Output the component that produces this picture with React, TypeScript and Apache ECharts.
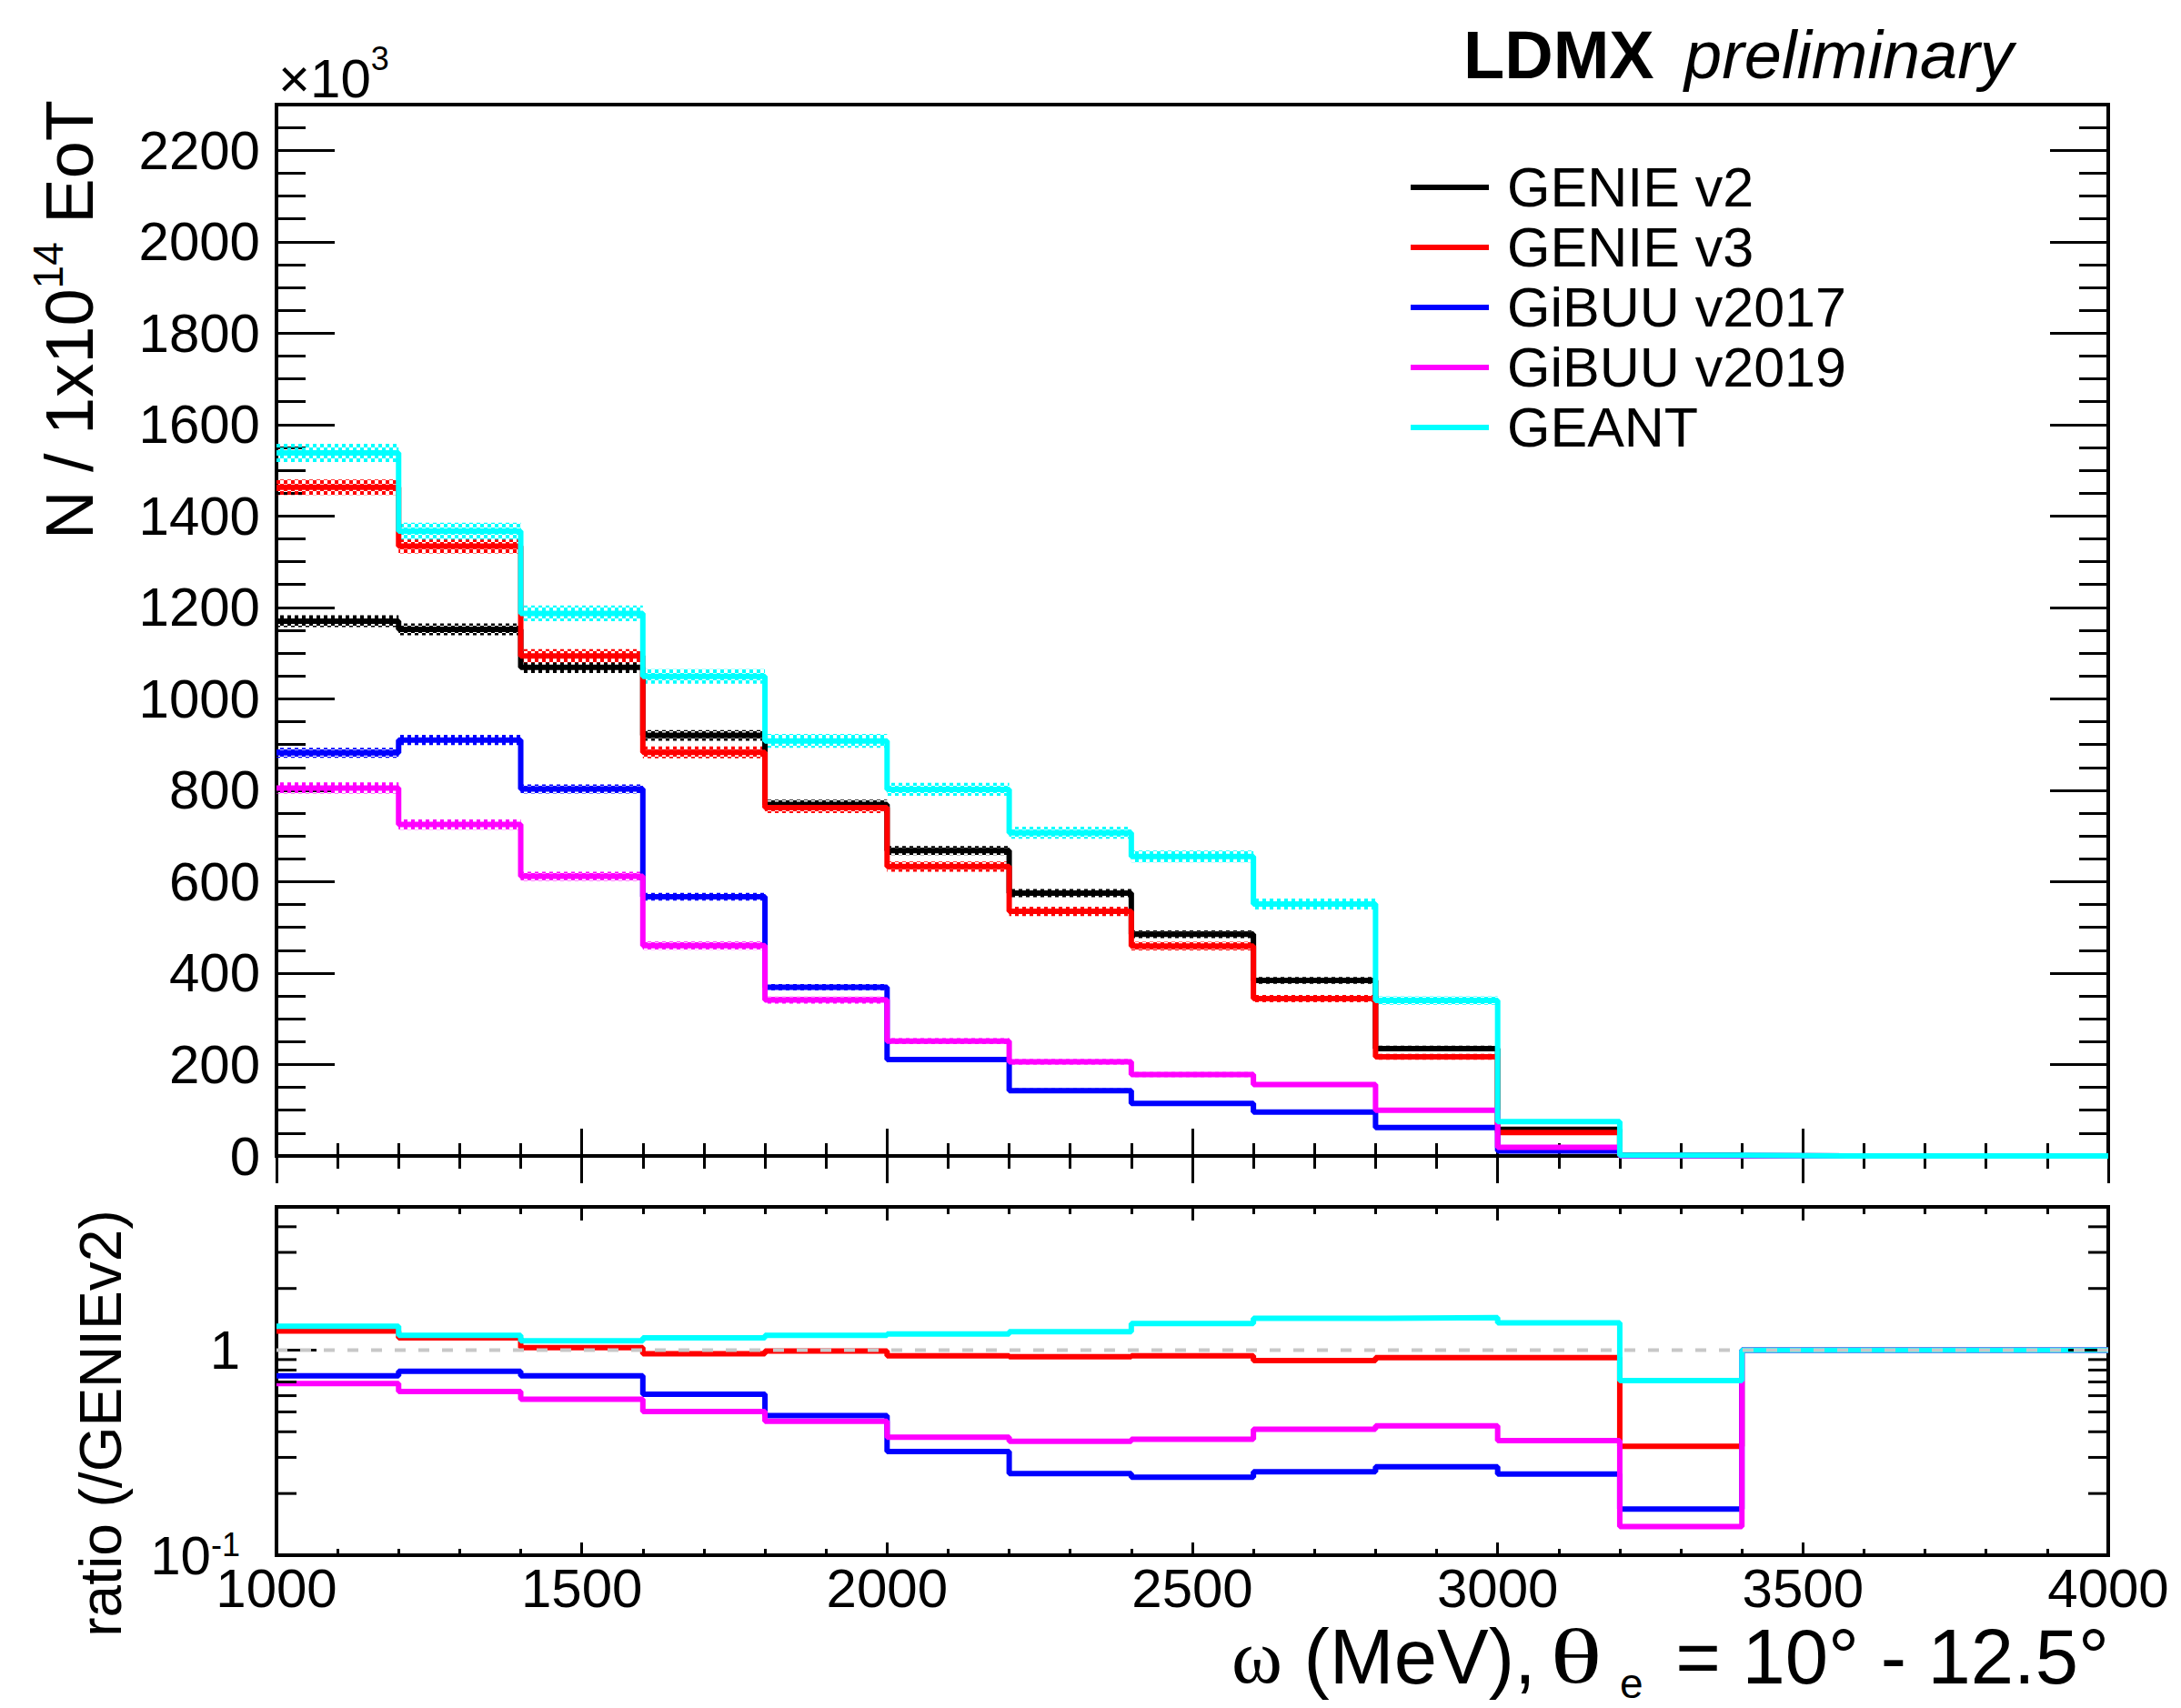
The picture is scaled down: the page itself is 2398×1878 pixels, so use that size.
import React, { useEffect, useRef } from "react";
import * as echarts from "echarts";

// ---------------- data ----------------
const binEdges = [1000, 1200, 1400, 1600, 1800, 2000, 2200, 2400, 2600, 2800, 3000, 3200, 3400, 3600, 3800, 4000];
const seriesNames = ["GENIE v2", "GENIE v3", "GiBUU v2017", "GiBUU v2019", "GEANT"];
const seriesColors = ["#000000", "#ff0000", "#0000ff", "#ff00ff", "#00ffff"];

// N / 1e14 EoT (x10^3)
const genieV2 = [1170, 1152, 1069, 920, 769, 668, 575, 485, 384, 235, 58, 2, 0, 0, 0];
const genieV3 = [1463, 1334, 1094, 883, 762, 633, 535, 459, 344, 217, 51, 0.7, 0, 0, 0];
const gibuu2017 = [882, 910, 803, 567, 369, 211, 143, 115, 96, 62, 11, 0.34, 0, 0, 0];
const gibuu2019 = [805, 725, 612, 460, 341, 251, 206, 178, 156, 100, 19, 0.28, 0, 0, 0];
const geant = [1538, 1367, 1187, 1049, 908, 802, 707, 655, 551, 340, 75, 1.4, 0, 0, 0];

// statistical uncertainty bands
const genieV2Err = [13, 13, 12.5, 11.5, 10.5, 10, 9, 8.5, 7.5, 6, 3, 0, 0, 0, 0];
const genieV3Err = [17, 16, 14.5, 13, 12, 11, 10, 9.5, 8, 6.5, 3, 0, 0, 0, 0];
const gibuu2017Err = [11, 11, 10, 8.5, 7, 5, 4.5, 4, 3.5, 3, 1, 0, 0, 0, 0];
const gibuu2019Err = [12, 11, 10, 9, 7.5, 6.5, 6, 5.5, 5, 4, 2, 0, 0, 0, 0];
const geantErr = [20, 18.5, 17, 16, 15, 14, 13, 13, 12, 9, 4, 0, 0, 0, 0];

// ratio to GENIE v2
const ratioGenieV3 = [1.24, 1.15, 1.03, 0.96, 0.99, 0.94, 0.93, 0.94, 0.89, 0.92, 0.92, 0.34, 1, 1, 1];
const ratioGibuu2017 = [0.75, 0.79, 0.75, 0.61, 0.48, 0.32, 0.25, 0.24, 0.255, 0.27, 0.249, 0.168, 1, 1, 1];
const ratioGibuu2019 = [0.687, 0.628, 0.577, 0.502, 0.45, 0.376, 0.359, 0.368, 0.411, 0.428, 0.362, 0.138, 1, 1, 1];
const ratioGeant = [1.31, 1.18, 1.11, 1.15, 1.18, 1.2, 1.23, 1.35, 1.43, 1.44, 1.36, 0.71, 1, 1, 1];
const ratioReference = [1, 1];

const logTickValues = [0.1, 0.2, 0.3, 0.4, 0.5, 0.6, 0.7, 0.8, 0.9, 1, 2, 3, 4];
const logMajorTicks = [0.1, 1];

const SANS = '"Liberation Sans", Arial, Helvetica, sans-serif';
const SERIF = '"Liberation Serif", "Times New Roman", serif';

let measureCtx: CanvasRenderingContext2D | null = null;
function measure(text: string, size: number, family: string, weight = "normal", style = "normal") {
  if (!measureCtx) measureCtx = document.createElement("canvas").getContext("2d");
  measureCtx!.font = `${style} ${weight} ${size}px ${family}`;
  return measureCtx!.measureText(text).width;
}

function makePattern(color: string) {
  const c = document.createElement("canvas");
  c.width = 8;
  c.height = 8;
  const g = c.getContext("2d")!;
  g.fillStyle = color;
  g.fillRect(0, 0, 4, 4);
  g.fillRect(4, 4, 4, 4);
  return { image: c.toDataURL(), repeat: "repeat", imageWidth: 8, imageHeight: 8 } as any;
}

function stepData(vals: number[]) {
  const d = vals.map((v, i) => [binEdges[i], v]);
  d.push([binEdges[binEdges.length - 1], vals[vals.length - 1]]);
  return d;
}

function txt(x: number, y: number, text: string, size: number, family: string, extra: any = {}, el: any = {}) {
  return {
    type: "text",
    x,
    y,
    silent: true,
    ...el,
    style: {
      text,
      fontSize: size,
      fontFamily: family,
      fill: "#000",
      align: "left",
      verticalAlign: "middle",
      ...extra,
    },
  };
}

export default function App() {
  const ref = useRef<HTMLDivElement>(null);
  useEffect(() => {
    if (!ref.current) return;
    const chart = echarts.init(ref.current, undefined, { renderer: "svg" });

    const topVals = [genieV2, genieV3, gibuu2017, gibuu2019, geant];
    const topErrs = [genieV2Err, genieV3Err, gibuu2017Err, gibuu2019Err, geantErr];
    const ratioVals = [null, ratioGenieV3, ratioGibuu2017, ratioGibuu2019, ratioGeant];

    const series: any[] = [];
    // bands
    topVals.forEach((vals, k) => {
      const pat = makePattern(seriesColors[k]);
      series.push({
        type: "custom",
        name: "band" + k,
        xAxisIndex: 0,
        yAxisIndex: 0,
        z: 1,
        silent: true,
        encode: { x: [0, 1], y: [2, 3] },
        data: vals
          .map((v, i) => [binEdges[i], binEdges[i + 1], v - topErrs[k][i], v + topErrs[k][i]])
          .filter((d) => d[3] - d[2] > 0),
        renderItem: (params: any, api: any) => {
          const p0 = api.coord([api.value(0), api.value(3)]);
          const p1 = api.coord([api.value(1), api.value(2)]);
          return {
            type: "rect",
            shape: { x: p0[0], y: p0[1], width: p1[0] - p0[0], height: p1[1] - p0[1] },
            style: { fill: pat },
          };
        },
      });
    });
    // histograms
    topVals.forEach((vals, k) => {
      series.push({
        type: "line",
        name: seriesNames[k],
        xAxisIndex: 0,
        yAxisIndex: 0,
        step: "end",
        symbol: "none",
        z: 3,
        color: seriesColors[k],
        itemStyle: { color: seriesColors[k] },
        lineStyle: { color: seriesColors[k], width: 6 },
        data: stepData(vals),
      });
    });
    // ratio histograms
    ratioVals.forEach((vals, k) => {
      if (!vals) return;
      series.push({
        type: "line",
        name: "ratio" + k,
        xAxisIndex: 2,
        yAxisIndex: 2,
        step: "end",
        symbol: "none",
        z: 3,
        color: seriesColors[k],
        lineStyle: { color: seriesColors[k], width: 6 },
        data: stepData(vals),
      });
    });
    // reference line at 1
    series.push({
      type: "line",
      name: "unity",
      xAxisIndex: 2,
      yAxisIndex: 2,
      symbol: "none",
      z: 6,
      silent: true,
      lineStyle: { color: "#c8c8c8", width: 4, type: [12, 14] },
      data: [
        [binEdges[0], ratioReference[0]],
        [binEdges[binEdges.length - 1], ratioReference[1]],
      ],
    });
    // log ticks (left + right)
    series.push({
      type: "custom",
      name: "logticks",
      xAxisIndex: 2,
      yAxisIndex: 2,
      z: 4,
      silent: true,
      encode: { x: 0, y: 1 },
      data: logTickValues.map((v) => [binEdges[0], v, logMajorTicks.includes(v) ? 1 : 0]),
      renderItem: (params: any, api: any) => {
        const pl = api.coord([api.value(0), api.value(1)]);
        const pr = api.coord([binEdges[binEdges.length - 1], api.value(1)]);
        const len = api.value(2) ? 44 : 22;
        return {
          type: "group",
          children: [
            { type: "line", shape: { x1: pl[0], y1: pl[1], x2: pl[0] + len, y2: pl[1] }, style: { stroke: "#000", lineWidth: 3 } },
            { type: "line", shape: { x1: pr[0], y1: pr[1], x2: pr[0] - len, y2: pr[1] }, style: { stroke: "#000", lineWidth: 3 } },
          ],
        };
      },
    });

    const tickStyle = { color: "#000", width: 3 };
    const xAxisBase = (grid: number, pos: string, major: number, minor: number, labels: boolean) => ({
      type: "value",
      gridIndex: grid,
      position: pos,
      min: 1000,
      max: 4000,
      interval: 500,
      axisLine: { show: false },
      axisTick: { show: true, inside: true, length: major, lineStyle: tickStyle },
      minorTick: { show: true, inside: true, splitNumber: 5, length: minor, lineStyle: tickStyle },
      splitLine: { show: false },
      minorSplitLine: { show: false },
      axisLabel: labels
        ? {
            show: true,
            fontSize: 60,
            lineHeight: 56,
            fontFamily: SANS,
            color: "#000",
            margin: 8,
            formatter: (v: number) => String(Math.round(v)),
          }
        : { show: false },
    });
    const yTopBase = (pos: string, labels: boolean) => ({
      type: "value",
      gridIndex: 0,
      position: pos,
      min: 0,
      max: 2300,
      interval: 200,
      axisLine: { show: false },
      axisTick: { show: true, inside: true, length: 64, lineStyle: tickStyle },
      minorTick: { show: true, inside: true, splitNumber: 4, length: 32, lineStyle: tickStyle },
      splitLine: { show: false },
      minorSplitLine: { show: false },
      axisLabel: labels
        ? {
            show: true,
            fontSize: 60,
            fontFamily: SANS,
            color: "#000",
            margin: 18,
            formatter: (v: number) => (Math.round(v) % 200 === 0 ? String(Math.round(v)) : ""),
          }
        : { show: false },
    });
    const yRatioBase = (pos: string, labels: boolean) => ({
      type: "log",
      logBase: 10,
      gridIndex: 1,
      position: pos,
      min: 0.1,
      max: 5,
      axisLine: { show: false },
      axisTick: { show: false },
      minorTick: { show: false },
      splitLine: { show: false },
      minorSplitLine: { show: false },
      axisLabel: labels
        ? {
            show: true,
            fontSize: 60,
            fontFamily: SANS,
            color: "#000",
            margin: 40,
            formatter: (v: number) =>
              Math.abs(v - 1) < 1e-6 ? "1" : Math.abs(v - 0.1) < 1e-6 ? "{b|10}{s|-1}" : "",
            rich: {
              b: { fontSize: 60, lineHeight: 60, fontFamily: SANS, color: "#000", verticalAlign: "bottom" },
              s: { fontSize: 36, lineHeight: 28, fontFamily: SANS, color: "#000", verticalAlign: "top" },
            },
          }
        : { show: false },
    });

    // ---------- free texts ----------
    const graphics: any[] = [];
    graphics.push(txt(1609, 60.5, "LDMX", 74, SANS, { fontWeight: "bold" }));
    graphics.push(txt(1852, 60.5, "preliminary", 74, SANS, { fontStyle: "italic" }));
    // x10^3
    const wX10 = measure("×10", 60, SANS);
    graphics.push(txt(306, 86, "×10", 60, SANS));
    graphics.push(txt(306 + wX10, 64.5, "3", 36, SANS));
    // y title (rotated)
    const yT1 = "N / 1x10";
    const yT2 = "14";
    const yT3 = " EoT";
    const w1 = measure(yT1, 74, SANS);
    const w2 = measure(yT2, 46, SANS);
    graphics.push({
      type: "group",
      x: 76.5,
      y: 593,
      rotation: Math.PI / 2,
      silent: true,
      children: [txt(0, 0, yT1, 74, SANS), txt(w1, -24, yT2, 46, SANS), txt(w1 + w2, 0, yT3, 74, SANS)],
    });
    // ratio title
    graphics.push({
      type: "text",
      x: 111,
      y: 1565,
      rotation: Math.PI / 2,
      silent: true,
      style: { text: "ratio (/GENIEv2)", fontSize: 64, fontFamily: SANS, fill: "#000", align: "center", verticalAlign: "middle" },
    });
    // x title: "ω (MeV), θ_e = 10° - 12.5°"
    const XF = 85;
    const XY = 1821;
    const TH_SCALE = 1.4;
    const xp1 = "ω";
    const xp2 = " (MeV),";
    const xp3 = "θ";
    const xp4 = "e";
    const xp5 = " = 10° - 12.5°";
    const lh = { lineHeight: 62 };
    const x1 = 1354;
    const x2 = x1 + measure(xp1, XF, SERIF);
    const x3 = x2 + measure(xp2, XF, SANS) + 16;
    const x5 = 2319 - measure(xp5, XF, SANS);
    const x4 = x5 - measure(xp4, 46, SANS) - 12;
    graphics.push(txt(x1, XY, xp1, XF, SERIF, lh));
    graphics.push(txt(x2, XY, xp2, XF, SANS, lh));
    graphics.push(txt(x3, XY, xp3, XF, SERIF, lh, { scaleX: TH_SCALE }));
    graphics.push(txt(x4, 1851, xp4, 46, SANS, { lineHeight: 40 }));
    graphics.push(txt(x5, XY, xp5, XF, SANS, lh));

    const option: any = {
      animation: false,
      backgroundColor: "#ffffff",
      textStyle: { fontFamily: SANS },
      grid: [
        { left: 304, right: 80, top: 115, height: 1156, show: true, borderColor: "#000", borderWidth: 4, backgroundColor: "rgba(0,0,0,0)" },
        { left: 304, right: 80, top: 1327, height: 383, show: true, borderColor: "#000", borderWidth: 4, backgroundColor: "rgba(0,0,0,0)" },
      ],
      xAxis: [
        xAxisBase(0, "bottom", 30, 14, false),
        xAxisBase(0, "top", 30, 14, false),
        xAxisBase(1, "bottom", 14, 7, true),
        xAxisBase(1, "top", 15, 8, false),
      ],
      yAxis: [yTopBase("left", true), yTopBase("right", false), yRatioBase("left", true), yRatioBase("right", false)],
      legend: {
        data: seriesNames,
        orient: "vertical",
        left: 1551,
        top: 173,
        padding: 0,
        icon: "rect",
        itemWidth: 86,
        itemHeight: 6,
        itemGap: 0,
        selectedMode: false,
        textStyle: { fontSize: 61, fontFamily: SANS, color: "#000", lineHeight: 54, padding: [0, 0, 12, 15] },
      },
      graphic: graphics,
      series,
    };
    chart.setOption(option);
    return () => chart.dispose();
  }, []);

  return (
    <div
      ref={ref}
      style={{ position: "absolute", left: 0, top: 0, width: 2398, height: 1878, background: "#fff" }}
    />
  );
}
